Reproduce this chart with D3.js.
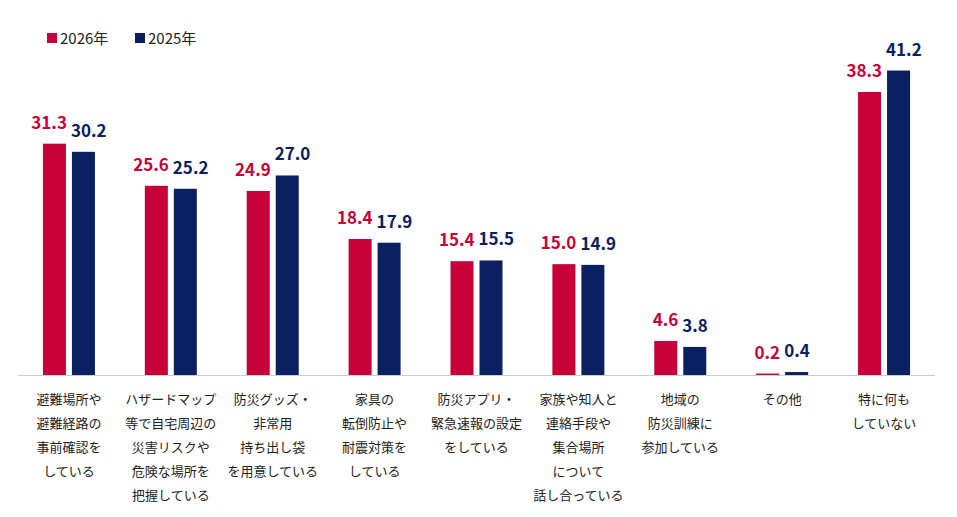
<!DOCTYPE html>
<html>
<head>
<meta charset="utf-8">
<script src="https://cdn.jsdelivr.net/npm/d3@7"></script>
<style>
  body { margin: 0; background: #fff; }
  svg { font-family: "Noto Sans CJK JP", "Noto Sans", sans-serif; }
</style>
</head>
<body>
<div id="chart"></div>
<script>
// categories (line breaks as in the original)
var categories = [
    ["避難場所や", "避難経路の", "事前確認を", "している"],
    ["ハザードマップ", "等で自宅周辺の", "災害リスクや", "危険な場所を", "把握している"],
    ["防災グッズ・", "非常用", "持ち出し袋", "を用意している"],
    ["家具の", "転倒防止や", "耐震対策を", "している"],
    ["防災アプリ・", "緊急速報の設定", "をしている"],
    ["家族や知人と", "連絡手段や", "集合場所", "について", "話し合っている"],
    ["地域の", "防災訓練に", "参加している"],
    ["その他"],
    ["特に何も", "していない"]
];
var series = ["2026年", "2025年"];
var values2026 = [31.3, 25.6, 24.9, 18.4, 15.4, 15.0, 4.6, 0.2, 38.3];
var values2025 = [30.2, 25.2, 27.0, 17.9, 15.5, 14.9, 3.8, 0.4, 41.2];

var colors = ["#c8003a", "#0b2060"];

var width = 957, height = 517;
var svg = d3.select("#chart").append("svg")
    .attr("width", width)
    .attr("height", height);

var baseY = 375;

var x = d3.scaleBand()
    .domain(d3.range(categories.length))
    .range([18, 935]);

var y = d3.scaleLinear()
    .domain([0, 50])
    .range([baseY, baseY - 7.39 * 50]);

var barW = 23, innerGap = 6;
var data = [values2026, values2025];

function barX(i, s) {
    var c = x(i) + x.bandwidth() / 2;
    return s === 0 ? c - innerGap / 2 - barW : c + innerGap / 2;
}

// bars + value labels (2026 label ends at bar's right edge, 2025 starts at bar's left edge)
data.forEach(function (vals, s) {
    var g = svg.append("g");
    g.selectAll("rect")
        .data(vals)
        .enter().append("rect")
            .attr("x", function (d, i) { return barX(i, s); })
            .attr("y", function (d) { return y(d); })
            .attr("width", barW)
            .attr("height", function (d) { return baseY - y(d); })
            .attr("fill", colors[s]);

    g.selectAll("text")
        .data(vals)
        .enter().append("text")
            .attr("x", function (d, i) { return s === 0 ? barX(i, s) + barW + 1 : barX(i, s) - 1; })
            .attr("y", function (d) { return y(d) - 15; })
            .attr("text-anchor", s === 0 ? "end" : "start")
            .attr("font-size", "17px")
            .attr("font-weight", "bold")
            .attr("fill", colors[s])
            .text(function (d) { return d.toFixed(1); });
});

// baseline
svg.append("line")
    .attr("x1", x.range()[0])
    .attr("x2", x.range()[1])
    .attr("y1", baseY + 0.5)
    .attr("y2", baseY + 0.5)
    .attr("stroke", "#cccccc")
    .attr("stroke-width", 1);

// category labels
var labels = svg.append("g");
categories.forEach(function (lines, i) {
    var t = labels.append("text")
        .attr("text-anchor", "middle")
        .attr("font-size", "13px")
        .attr("fill", "#222");
    lines.forEach(function (ln, k) {
        t.append("tspan")
            .attr("x", x(i) + x.bandwidth() / 2)
            .attr("y", 404 + k * 24)
            .text(ln);
    });
});

// legend
var legendX = [47, 135];
series.forEach(function (name, s) {
    svg.append("rect")
        .attr("x", legendX[s])
        .attr("y", 33)
        .attr("width", 10)
        .attr("height", 10)
        .attr("fill", colors[s]);
    svg.append("text")
        .attr("x", legendX[s] + 13)
        .attr("y", 43.5)
        .attr("font-size", "15px")
        .attr("fill", "#222")
        .text(name);
});
</script>
</body>
</html>
